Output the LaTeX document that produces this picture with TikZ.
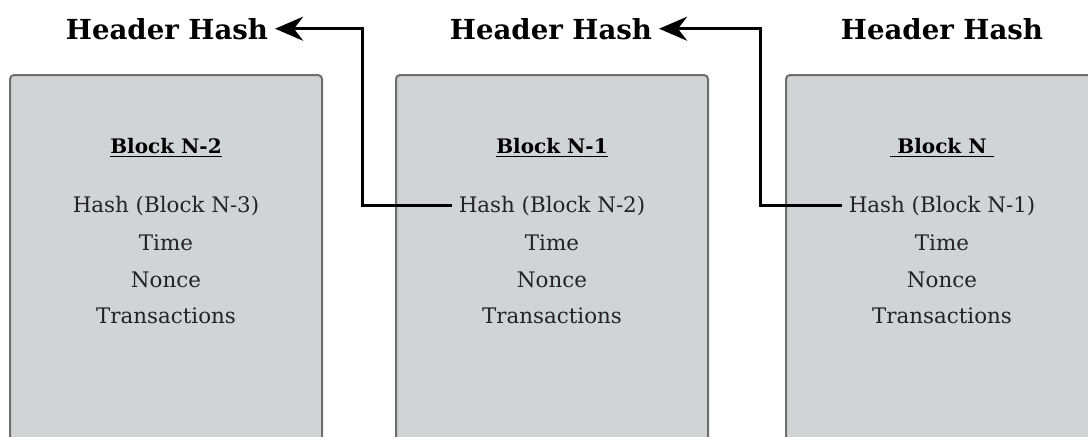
\documentclass[tikz,border=0pt]{standalone}
\usepackage{fontspec}
\setmainfont{DejaVu Serif}
\usetikzlibrary{arrows.meta}
\definecolor{boxfill}{RGB}{209,212,213}
\definecolor{boxline}{RGB}{110,110,110}
\definecolor{txt}{RGB}{35,35,35}

\tikzset{
    blockbox/.style={draw=boxline, fill=boxfill, line width=1pt, rounded corners=2pt,
                     minimum width=156pt, minimum height=200pt, anchor=north},
    header/.style={anchor=base, font=\fontsize{13.8}{16}\selectfont\bfseries},
    title/.style={anchor=base, font=\fontsize{10}{12}\selectfont\bfseries},
    field/.style={anchor=base, text=txt, font=\fontsize{10.7}{13}\selectfont},
    link/.style={draw, line width=1.5pt, -{Stealth[length=14pt, width=12pt]}}
}

\begin{document}
\begin{tikzpicture}[x=0.5pt, y=-0.5pt]
        \clip (0,0) rectangle (1088,436);
        \node[blockbox](B1) at (166,74) {};
        \node[blockbox](B2) at (552,74) {};
        \node[blockbox](B3) at (942,74) {};

        \node[header](H1) at (167,39) {Header Hash};
        \node[header](H2) at (551,39) {Header Hash};
        \node[header](H3) at (942,39) {Header Hash};

        \node[title](T1) at (166,153) {\underline{Block N-2}};
        \node[field](P1) at (166,212) {Hash (Block N-3)};
        \node[field](M1) at (166,250) {Time};
        \node[field](N1) at (166,287) {Nonce};
        \node[field](X1) at (166,323) {Transactions};

        \node[title](T2) at (552,153) {\underline{Block N-1}};
        \node[field](P2) at (552,212) {Hash (Block N-2)};
        \node[field](M2) at (552,250) {Time};
        \node[field](N2) at (552,287) {Nonce};
        \node[field](X2) at (552,323) {Transactions};

        \node[title](T3) at (942,153) {\underline{\ Block N\ }};
        \node[field](P3) at (942,212) {Hash (Block N-1)};
        \node[field](M3) at (942,250) {Time};
        \node[field](N3) at (942,287) {Nonce};
        \node[field](X3) at (942,323) {Transactions};

        \draw[link] (P2.west) -| (362,100) |- (H1.east);
        \draw[link] (P3.west) -| (760,100) |- (H2.east);
    \end{tikzpicture}
\end{document}
